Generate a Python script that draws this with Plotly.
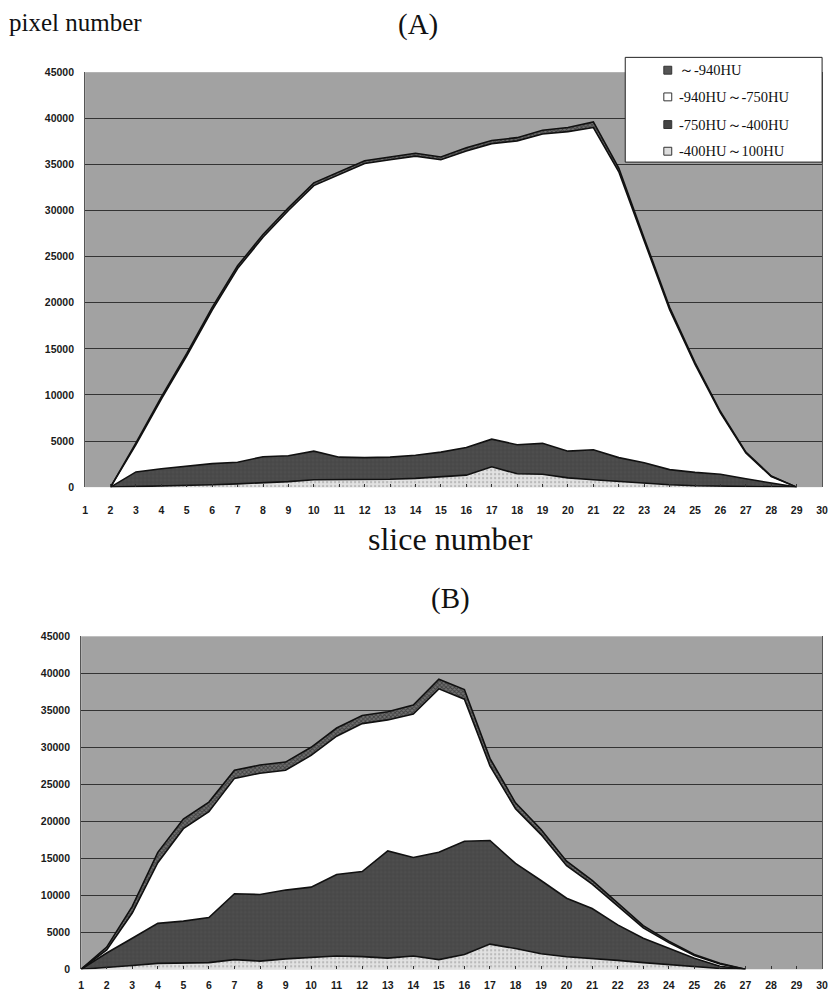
import plotly.graph_objects as go

# ---------------- data ----------------
slices_A = list(range(2, 30))
A_low = [0, 50, 100, 150, 250, 350, 450, 600, 800, 800, 850, 850, 950, 1100, 1300, 2200,
         1450, 1400, 1000, 800, 600, 400, 250, 150, 100, 50, 20, 0]
A_mid = [0, 1600, 1900, 2100, 2300, 2350, 2850, 2800, 3100, 2450, 2350, 2400, 2500, 2700, 3000, 3000,
         3150, 3350, 2900, 3250, 2600, 2250, 1650, 1450, 1300, 850, 430, 0]
A_white = [0, 2950, 7550, 12000, 16650, 21000, 23800, 26600, 28800, 30650, 31900, 32250, 32450, 31700,
           32150, 32050, 32950, 33550, 34650, 34950, 31000, 24050, 17350, 11700, 6650, 2800, 700, 0]
A_top = [0, 200, 250, 250, 300, 300, 300, 300, 300, 300, 300, 300, 300, 300, 350, 350,
         350, 400, 450, 600, 400, 300, 250, 200, 150, 100, 50, 0]

slices_B = list(range(1, 28))
B_low = [0, 200, 500, 800, 900, 900, 1300, 1100, 1400, 1600, 1800, 1700, 1500, 1800, 1300, 2000,
         3400, 2800, 2100, 1700, 1500, 1200, 900, 600, 300, 100, 0]
B_mid = [0, 2000, 3700, 5400, 5600, 6100, 8900, 9000, 9300, 9500, 11000, 11500, 14500, 13300, 14500,
         15300, 14000, 11500, 9900, 7900, 6700, 4800, 3300, 2200, 1200, 300, 0]
B_white = [0, 400, 3400, 8200, 12500, 14300, 15600, 16400, 16200, 17800, 18700, 20000, 17700, 19400,
           22100, 19200, 10100, 7400, 6200, 4400, 3300, 2600, 1400, 800, 350, 320, 0]
B_top = [0, 400, 900, 1400, 1300, 1300, 1100, 1100, 1100, 1100, 1100, 1100, 1100, 1200, 1300, 1300,
         1000, 800, 700, 600, 500, 400, 300, 200, 150, 80, 0]

series_names = ["-400HU～100HU", "-750HU～-400HU", "-940HU～-750HU", "～-940HU"]
x_ticks = list(range(1, 31))
y_ticks = list(range(0, 45001, 5000))

# ---------------- styles ----------------
W, H = 838, 996
def px(x):
    return x / W
def py(y):
    return 1 - y / H

styles = [
    dict(fillcolor="#dcdcdc", fillpattern=dict(shape=".", bgcolor="#e2e2e2", fgcolor="#8a8a8a", size=4, solidity=0.25)),
    dict(fillcolor="#4a4a4a", fillpattern=dict(shape="+", bgcolor="#4e4e4e", fgcolor="#363636", size=4, solidity=0.3)),
    dict(fillcolor="#ffffff"),
    dict(fillcolor="#444444", fillpattern=dict(shape="x", bgcolor="#707070", fgcolor="#111111", size=3, solidity=0.5)),
]

fig = go.Figure()

def add_panel(xs, layers, xa, ya, grp):
    for name, vals, st in zip(series_names, layers, styles):
        fig.add_trace(go.Scatter(
            x=xs, y=vals, name=name, mode="lines", stackgroup=grp,
            line=dict(color="#111111", width=1.6),
            xaxis=xa, yaxis=ya, showlegend=False, hoverinfo="skip", **st))

add_panel(slices_A, [A_low, A_mid, A_white, A_top], "x", "y", "A")
add_panel(slices_B, [B_low, B_mid, B_white, B_top], "x2", "y2", "B")

tickfont = dict(family="Liberation Sans Narrow, Liberation Sans, Arial", size=10.5, color="#1a1a1a", weight="bold")

xax = dict(range=[1, 30], tickvals=x_ticks, ticktext=[str(v) for v in x_ticks], showgrid=False,
           ticks="inside", ticklen=3, tickcolor="#333", tickfont=tickfont,
           showline=False, zeroline=False, fixedrange=True)
yax = dict(range=[0, 45000], tickvals=y_ticks, ticktext=[str(v) for v in y_ticks], showgrid=True,
           gridcolor="#333333", gridwidth=1, tickfont=tickfont, ticks="", ticklabelstandoff=8,
           showline=True, linecolor="#555", mirror=True, zeroline=False, fixedrange=True)

fig.update_layout(
    width=W, height=H, margin=dict(l=0, r=0, t=0, b=0),
    paper_bgcolor="white", plot_bgcolor="#a2a2a2",
    xaxis=dict(xax, domain=[px(83), px(828)], anchor="y", ticklabelstandoff=15),
    yaxis=dict(yax, domain=[py(487), py(67)], anchor="x"),
    xaxis2=dict(xax, domain=[px(79), px(828)], anchor="y2", ticklabelstandoff=8),
    yaxis2=dict(yax, domain=[py(975), py(638)], anchor="x2"),
    showlegend=False,
)

serif = "Liberation Serif, Times New Roman, serif"
ann = [
    dict(text="pixel number", x=px(4), y=py(17), xanchor="left", yanchor="middle", font=dict(family=serif, size=25, color="#111")),
    dict(text="(A)", x=px(420), y=py(19), xanchor="center", yanchor="middle", font=dict(family=serif, size=29, color="#111")),
    dict(text="slice number", x=px(452), y=py(540), xanchor="center", yanchor="middle", font=dict(family=serif, size=32, color="#111")),
    dict(text="(B)", x=px(452), y=py(600), xanchor="center", yanchor="middle", font=dict(family=serif, size=29, color="#111")),
]
for a in ann:
    a.update(xref="paper", yref="paper", showarrow=False)
fig.update_layout(annotations=ann)

# legend drawn as box + swatches + text
shapes = [dict(type="rect", xref="paper", yref="paper", x0=px(629), x1=px(828), y0=py(158), y1=py(52),
               fillcolor="white", line=dict(color="#222", width=1), layer="above")]
swatch = ["#555555", "#ffffff", "#444444", "#dddddd"]
leg_y = [65, 92, 120, 147]
for name, col, yy in zip(series_names[::-1], swatch, leg_y):
    shapes.append(dict(type="rect", xref="paper", yref="paper", x0=px(668), x1=px(676), y0=py(yy + 4), y1=py(yy - 4),
                       fillcolor=col, line=dict(color="#333", width=1), layer="above"))
    fig.add_annotation(text=name, x=px(681), y=py(yy), xref="paper", yref="paper", xanchor="left", yanchor="middle",
                       showarrow=False, font=dict(family=serif, size=14.5, color="#111"))
fig.update_layout(shapes=shapes)

fig.write_html("out.html", config={"displayModeBar": False},
               post_script="document.body.style.margin='0';document.body.style.padding='0';")
